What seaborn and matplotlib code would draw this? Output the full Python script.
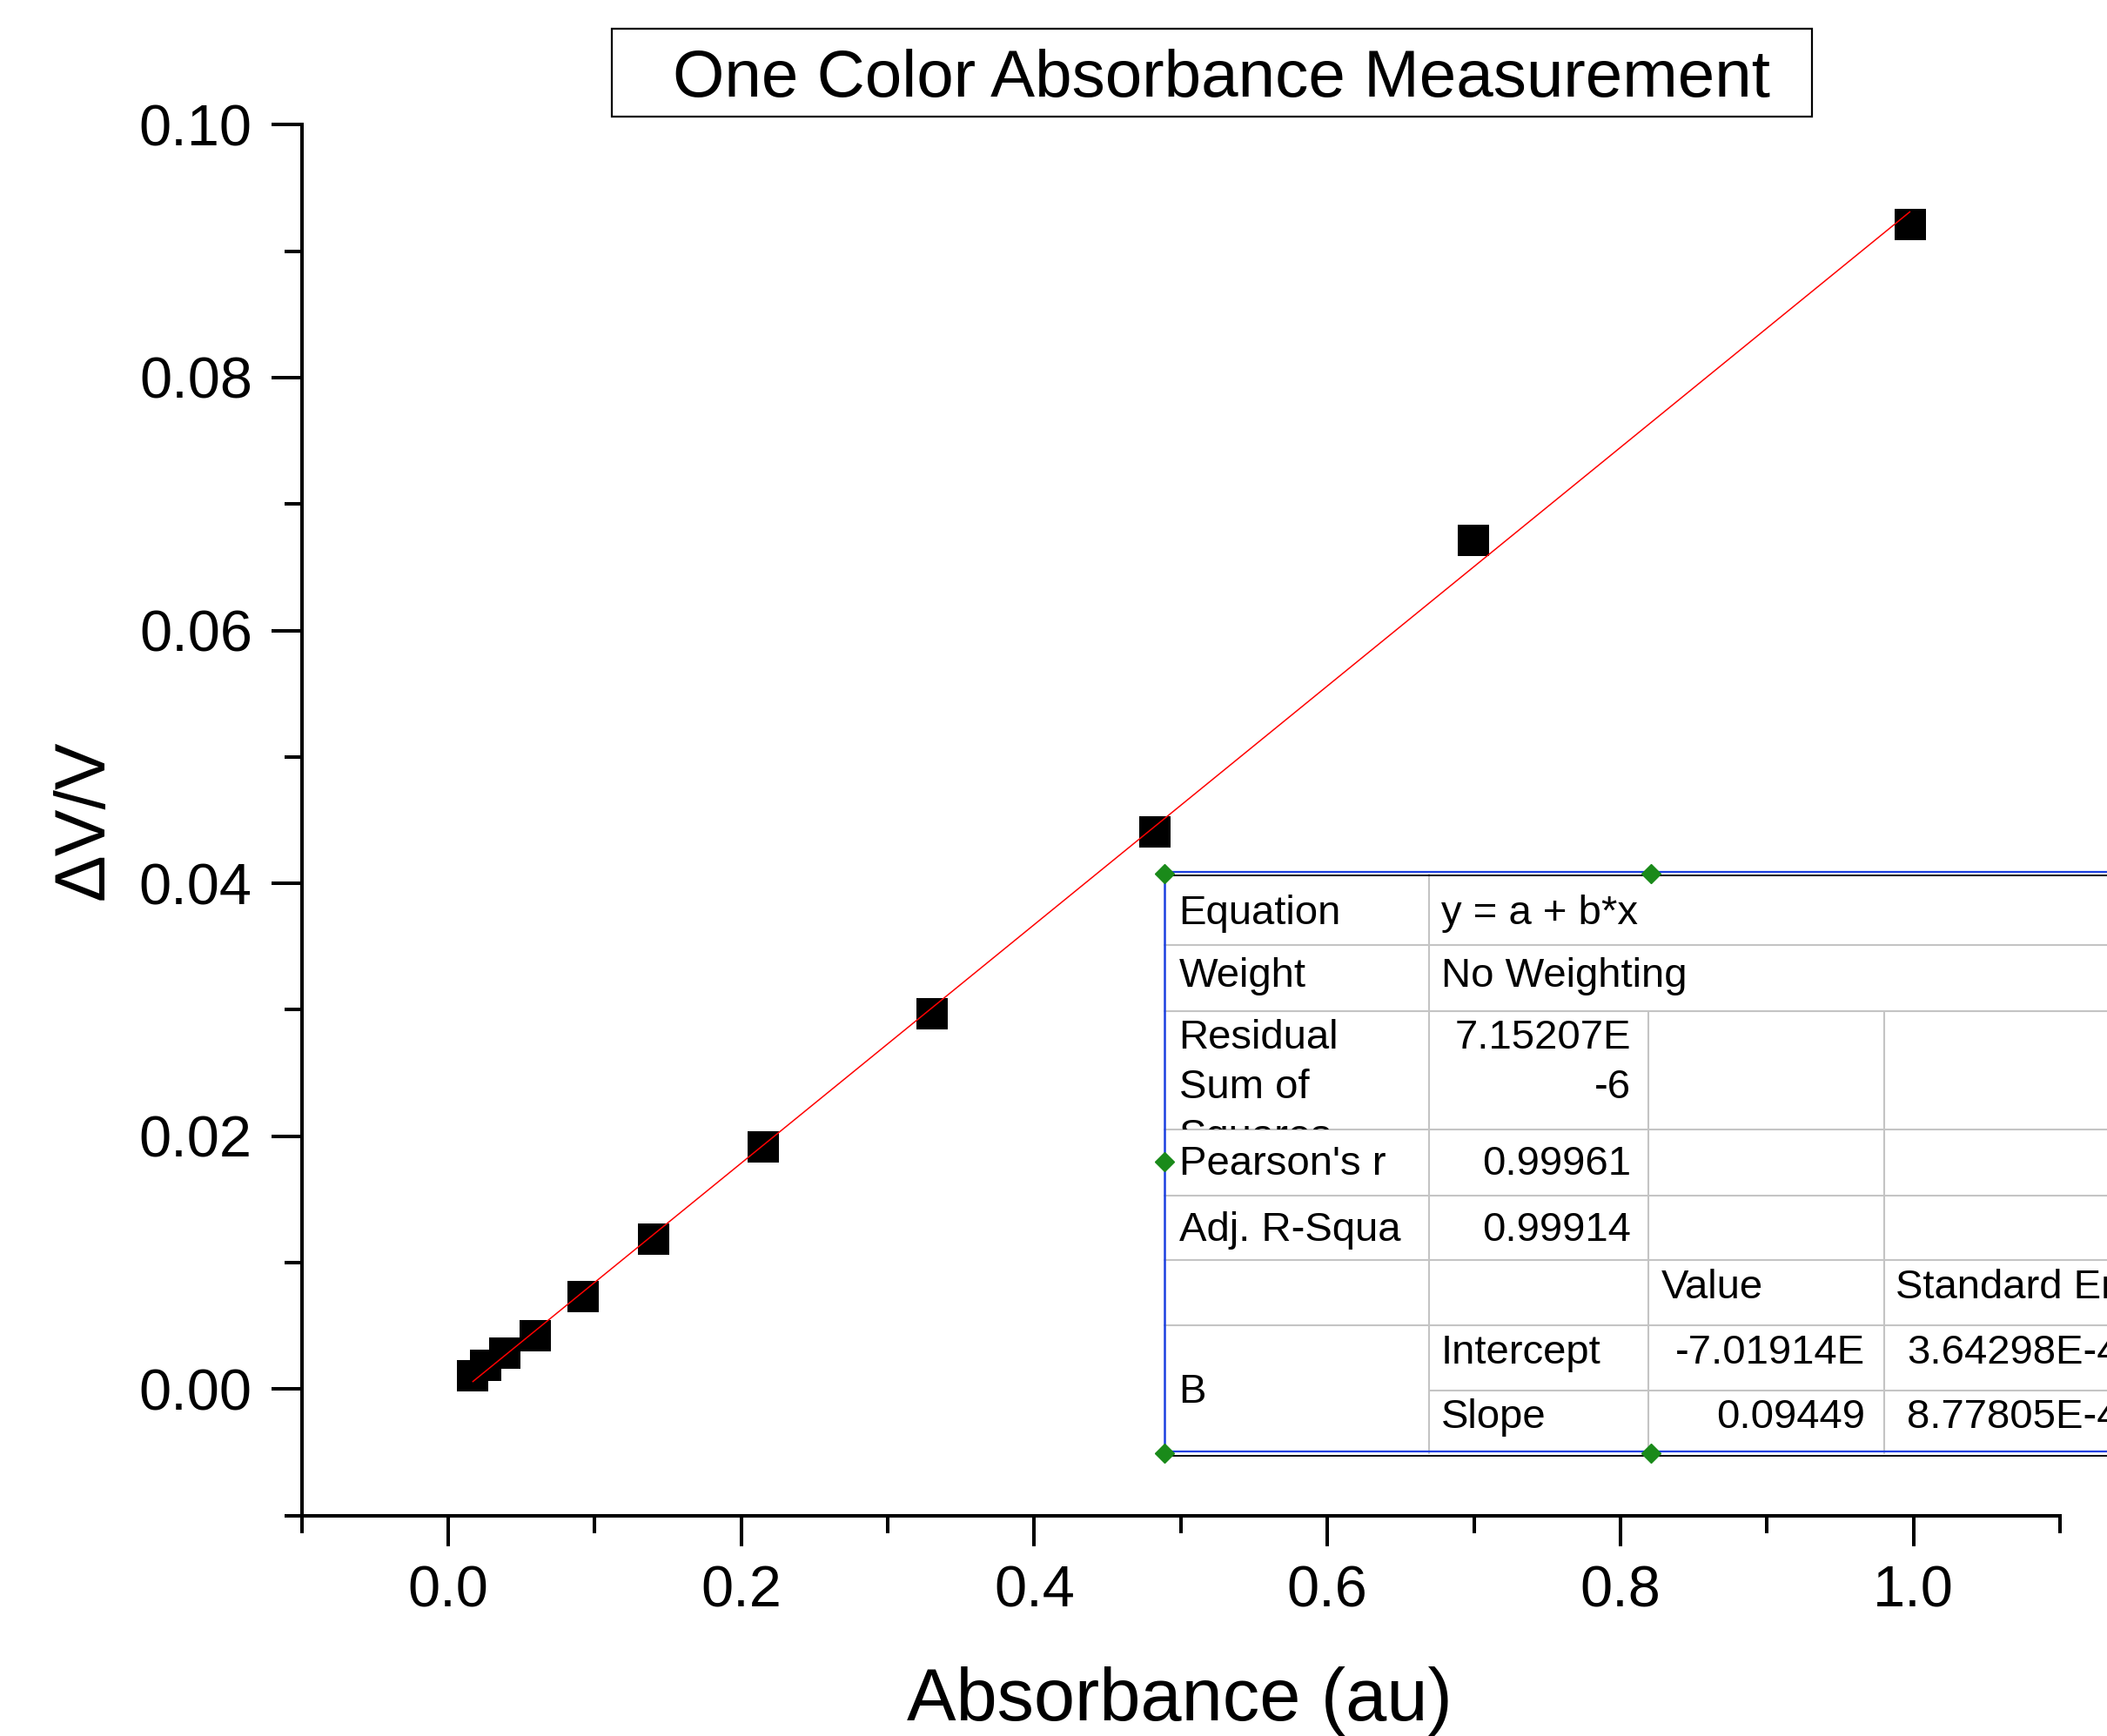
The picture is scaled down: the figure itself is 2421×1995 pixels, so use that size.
import numpy as np
import pandas as pd
import seaborn as sns
import matplotlib
matplotlib.use("Agg")
import matplotlib.pyplot as plt
from matplotlib.patches import Rectangle
from matplotlib.ticker import MultipleLocator, FormatStrFormatter

# values
absorbance = [0.0167, 0.0254, 0.0385, 0.0591, 0.0920, 0.1404, 0.2150, 0.3305, 0.4820, 0.6996, 0.9976]
dv_over_v = [0.00105, 0.00186, 0.00282, 0.00424, 0.00729, 0.01183, 0.01919, 0.02968, 0.04410, 0.06714, 0.09209]

title = "One Color Absorbance Measurement"
x_label = "Absorbance (au)"
y_label = "ΔV/V"

# Origin style fit report
fit_labels = ["Equation", "Weight", "Residual\nSum of\nSquares", "Pearson's r", "Adj. R-Squa"]
fit_values = ["y = a + b*x", "No Weighting", "7.15207E\n-6", "0.99961", "0.99914"]
param_header = ["Value", "Standard Error"]
param_group = "B"
param_names = ["Intercept", "Slope"]
param_values = ["-7.01914E", "0.09449"]
param_errors = ["3.64298E-4", "8.77805E-4"]

sns.set_style("ticks")
plt.rcParams['font.family'] = ['Liberation Sans', 'DejaVu Sans']
plt.rcParams.update({'text.color': 'black', 'axes.labelcolor': 'black', 'axes.edgecolor': 'black',
                     'xtick.color': 'black', 'ytick.color': 'black'})

W, H = 2421, 1995
fig = plt.figure(figsize=(W / 100, H / 100), dpi=100)

ax_l, ax_r, ax_t, ax_b = 346.7, 2367.0, 143.3, 1741.7
ax = fig.add_axes([ax_l / W, 1 - ax_b / H, (ax_r - ax_l) / W, (ax_b - ax_t) / H])

df = pd.DataFrame({"absorbance": absorbance, "dv": dv_over_v})
sns.regplot(data=df, x="absorbance", y="dv", ax=ax, ci=None, marker="s", color="black",
            scatter_kws={"s": 670, "linewidths": 0, "alpha": 1, "zorder": 3},
            line_kws={"color": "red", "lw": 1.1, "zorder": 4})

ax.set_xlim(-0.1, 1.1)
ax.set_ylim(-0.01, 0.10)
ax.xaxis.set_major_locator(MultipleLocator(0.2))
ax.xaxis.set_minor_locator(MultipleLocator(0.1))
ax.yaxis.set_major_locator(MultipleLocator(0.02))
ax.yaxis.set_minor_locator(MultipleLocator(0.01))
ax.xaxis.set_major_formatter(FormatStrFormatter('%.1f'))
ax.yaxis.set_major_formatter(FormatStrFormatter('%.2f'))

sns.despine(ax=ax)
for side in ['left', 'bottom']:
    ax.spines[side].set_linewidth(2.9)
ax.tick_params(which='major', direction='out', length=25, width=2.9, labelsize=48, pad=16, color='black')
ax.tick_params(which='minor', direction='out', length=14.5, width=2.9, color='black')

ax.set_xlabel(x_label, fontsize=61)
ax.set_ylabel(y_label, fontsize=58)
ax.xaxis.set_label_coords(0.4994, -0.1084)
ax.yaxis.set_label_coords(-0.1045, 0.5)

# title in a box
fig.add_artist(Rectangle((702.6 / W, 1 - 134 / H), (2082 - 702.6) / W, (134 - 33.3) / H,
                         transform=fig.transFigure, fill=False, lw=1.6, ec='black'))
fig.text(1403 / W, 1 - 110.7 / H, title, ha='center', va='baseline', fontsize=55)

# overlay in pixel coordinates for the fit table
ov = fig.add_axes([0, 0, 1, 1], zorder=5)
ov.set_xlim(0, W)
ov.set_ylim(H, 0)
ov.axis('off')
ov.patch.set_visible(False)

cols = [1337.6, 1641.6, 1894.4, 2164.8]
rows = [1004.6, 1086.3, 1161.7, 1298.3, 1373.8, 1448.3, 1523.3, 1598.3, 1669.7]
baselines = [1062, 1134, 1205, 1350, 1426, 1492, 1567, 1641]
line_step = 57
right_edge = W + 20
fs = 34
grid_c = '#c4c4c4'

ov.add_patch(Rectangle((cols[0], rows[0]), right_edge - cols[0], rows[-1] - rows[0],
                       fc='white', ec='none', zorder=1))

for r in rows[1:7]:
    ov.plot([cols[0], right_edge], [r, r], color=grid_c, lw=1.5, zorder=2)
ov.plot([cols[1], right_edge], [rows[7], rows[7]], color=grid_c, lw=1.5, zorder=2)
ov.plot([cols[1], cols[1]], [rows[0], rows[-1]], color=grid_c, lw=1.5, zorder=2)
for c in cols[2:]:
    ov.plot([c, c], [rows[2], rows[-1]], color=grid_c, lw=1.5, zorder=2)

# border: blue with a black line next to it
ov.plot([cols[0], right_edge], [1002.3, 1002.3], color='#1a3fe0', lw=1.6, zorder=3)
ov.plot([cols[0] + 3, right_edge], [1005.9, 1005.9], color='black', lw=1.4, zorder=3)
ov.plot([cols[0], right_edge], [1668.3, 1668.3], color='#1a3fe0', lw=1.6, zorder=3)
ov.plot([cols[0], right_edge], [1672.7, 1672.7], color='black', lw=1.4, zorder=3)
ov.plot([cols[0], cols[0]], [1002.3, 1672.7], color='#1a3fe0', lw=1.8, zorder=3)

# selection handles
ov.plot([cols[0], 1897, cols[0], cols[0], 1897], [1004, 1004, 1335, 1670, 1670],
        ls='none', marker='D', ms=11, color='#1a8a1a', zorder=4)

txt_left = cols[0] + 17
for i, (lab, val) in enumerate(zip(fit_labels, fit_values)):
    cell = Rectangle((cols[0], rows[i]), cols[1] - cols[0], rows[i + 1] - rows[i],
                     transform=ov.transData)
    for k, part in enumerate(lab.split("\n")):
        t = ov.text(txt_left, baselines[i] + k * line_step, part, ha='left', va='baseline',
                    fontsize=fs, zorder=3, clip_on=True)
        t.set_clip_path(cell)
    for k, part in enumerate(val.split("\n")):
        if i < 2:
            ov.text(cols[1] + 14, baselines[i] + k * line_step, part, ha='left', va='baseline',
                    fontsize=fs, zorder=3)
        else:
            ov.text(cols[2] - 20, baselines[i] + k * line_step, part, ha='right', va='baseline',
                    fontsize=fs, zorder=3)

ov.text(cols[2] + 14, baselines[5], param_header[0], ha='left', va='baseline', fontsize=fs, zorder=3)
ov.text(cols[3] + 13, baselines[5], param_header[1], ha='left', va='baseline', fontsize=fs, zorder=3)
ov.text(txt_left, 1611.7, param_group, ha='left', va='baseline', fontsize=fs, zorder=3)
for j, (name, val, err) in enumerate(zip(param_names, param_values, param_errors)):
    b = baselines[6 + j]
    ov.text(cols[1] + 14, b, name, ha='left', va='baseline', fontsize=fs, zorder=3)
    ov.text(cols[3] - 22, b, val, ha='right', va='baseline', fontsize=fs, zorder=3)
    ov.text(cols[3] + 26, b, err, ha='left', va='baseline', fontsize=fs, zorder=3)

fig.savefig("out.png", dpi=100)
